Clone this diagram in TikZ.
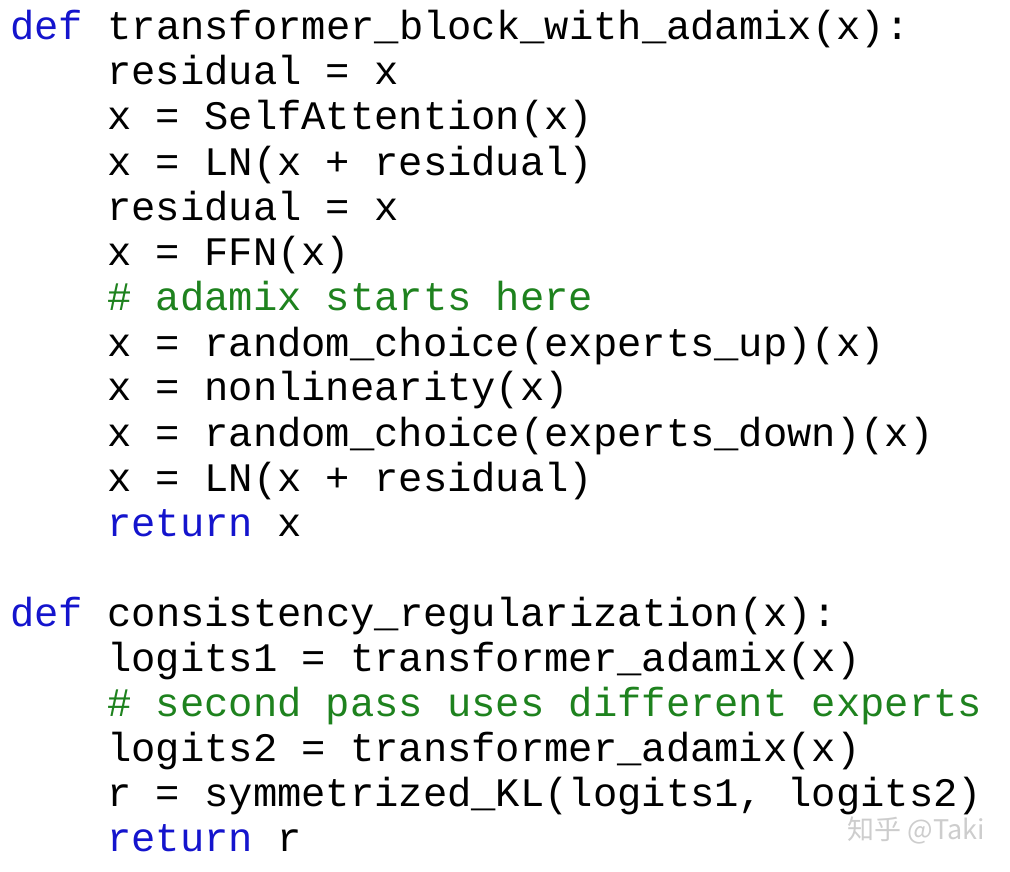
\documentclass[tikz,border=0pt]{standalone}
\usepackage{fontspec}
\setmonofont{Liberation Mono}
\newfontfamily\cjkfont{Noto Sans CJK SC}
\definecolor{kwblue}{RGB}{20,20,205}
\definecolor{cmtgreen}{RGB}{30,130,30}
\definecolor{markgray}{RGB}{205,205,205}
\tikzset{
  codeline/.style={anchor=base west,inner sep=0pt,font=\fontsize{40.5}{45}\ttfamily},
  watermark/.style={anchor=base east,inner sep=0pt,text=markgray,font=\fontsize{27}{30}\cjkfont}
}
\newcommand{\kw}[1]{\textcolor{kwblue}{#1}}
\newcommand{\cmt}[1]{\textcolor{cmtgreen}{#1}}
\begin{document}
\begin{tikzpicture}[x=1pt,y=1pt]
\useasboundingbox[fill=white] (0,0) rectangle (1010,872);
% first function
\node[codeline] (l1) at (10,832) {\kw{def} transformer\_block\_with\_adamix(x):};
\node[codeline] (l2) at (107,787) {residual = x};
\node[codeline] (l3) at (107,742) {x = SelfAttention(x)};
\node[codeline] (l4) at (107,696) {x = LN(x + residual)};
\node[codeline] (l5) at (107,651) {residual = x};
\node[codeline] (l6) at (107,606) {x = FFN(x)};
\node[codeline] (l7) at (107,561) {\cmt{\# adamix starts here}};
\node[codeline] (l8) at (107,515) {x = random\_choice(experts\_up)(x)};
\node[codeline] (l9) at (107,471) {x = nonlinearity(x)};
\node[codeline] (l10) at (107,425) {x = random\_choice(experts\_down)(x)};
\node[codeline] (l11) at (107,380) {x = LN(x + residual)};
\node[codeline] (l12) at (107,335) {\kw{return} x};
% second function
\node[codeline] (l13) at (10,245) {\kw{def} consistency\_regularization(x):};
\node[codeline] (l14) at (107,200) {logits1 = transformer\_adamix(x)};
\node[codeline] (l15) at (107,155) {\cmt{\# second pass uses different experts}};
\node[codeline] (l16) at (107,110) {logits2 = transformer\_adamix(x)};
\node[codeline] (l17) at (107,65) {r = symmetrized\_KL(logits1, logits2)};
\node[codeline] (l18) at (107,20) {\kw{return} r};
\node[watermark] (mark) at (985,32) {知乎 @Taki};
\end{tikzpicture}
\end{document}
